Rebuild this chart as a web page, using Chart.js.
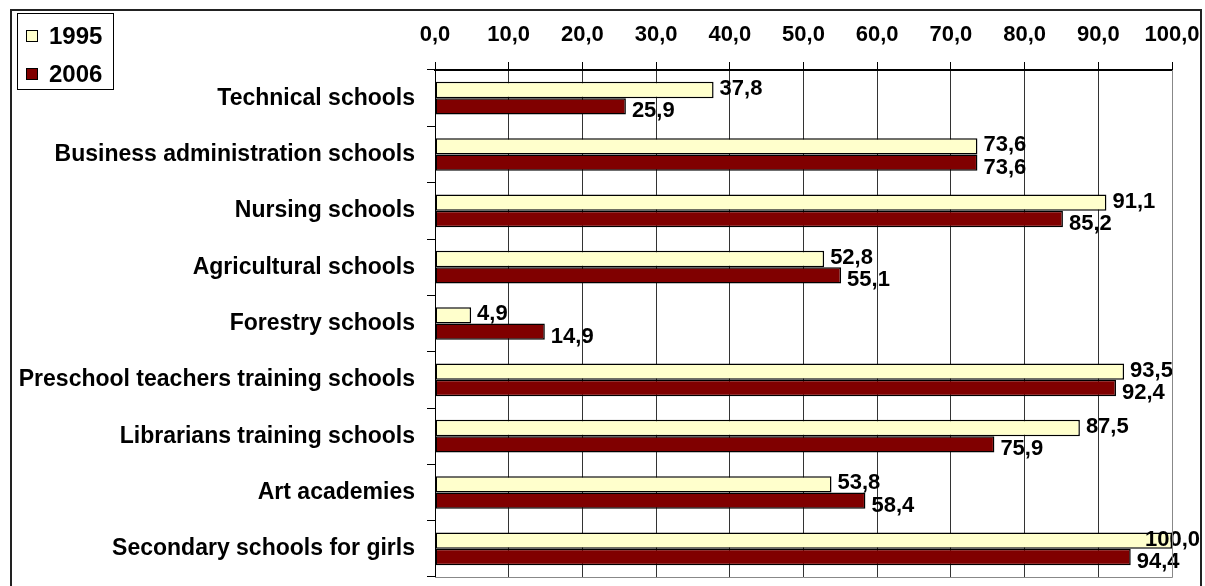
<!DOCTYPE html>
<html>
<head>
<meta charset="utf-8">
<script src="https://cdn.jsdelivr.net/npm/chart.js@4.4.1/dist/chart.umd.min.js"></script>
<style>
  body { margin: 0; background: #fff; }
  canvas { display: block; }
</style>
</head>
<body>
<canvas id="chart" width="1205" height="586"></canvas>
<script>
const categories = [
  "Technical schools",
  "Business administration schools",
  "Nursing schools",
  "Agricultural schools",
  "Forestry schools",
  "Preschool teachers training schools",
  "Librarians training schools",
  "Art academies",
  "Secondary schools for girls"
];
const values1995 = [37.8, 73.6, 91.1, 52.8, 4.9, 93.5, 87.5, 53.8, 100.0];
const values2006 = [25.9, 73.6, 85.2, 55.1, 14.9, 92.4, 75.9, 58.4, 94.4];
const seriesNames = ["1995", "2006"];
const tickValues = [0, 10, 20, 30, 40, 50, 60, 70, 80, 90, 100];

const FONT = "Arial, 'Liberation Sans', sans-serif";
const fmt = v => Number(v).toFixed(1).replace(".", ",");

// frame round the whole chart + bottom/right edge of plot
const framePlugin = {
  id: "frame",
  beforeDraw(chart) {
    const c = chart.ctx;
    c.save();
    c.fillStyle = "#fff";
    c.fillRect(0, 0, chart.width, chart.height);
    c.restore();
  },
  afterDraw(chart) {
    const c = chart.ctx;
    const a = chart.chartArea;
    c.save();
    c.strokeStyle = "#888";
    c.lineWidth = 1;
    c.beginPath();
    c.moveTo(a.left, a.bottom + 0.5);
    c.lineTo(a.right + 0.5, a.bottom + 0.5);
    c.lineTo(a.right + 0.5, a.top);
    c.stroke();
    c.strokeStyle = "#222";
    c.lineWidth = 2;
    c.strokeRect(11, 10, 1190, chart.height + 10);
    c.restore();
  }
};

// value labels at the bar ends
const valueLabels = {
  id: "valueLabels",
  afterDatasetsDraw(chart) {
    const c = chart.ctx;
    c.save();
    c.font = "bold 22px " + FONT;
    c.fillStyle = "#000";
    c.textBaseline = "middle";
    chart.data.datasets.forEach((ds, i) => {
      const meta = chart.getDatasetMeta(i);
      meta.data.forEach((bar, j) => {
        const txt = fmt(ds.data[j]);
        const w = c.measureText(txt).width;
        let x = bar.x + 6;
        if (x + w > 1200) x = 1200 - w;
        const y = bar.y + (i === 0 ? -1 : 5);
        c.fillText(txt, x, y);
      });
    });
    c.restore();
  }
};

// boxed legend top-left
const boxLegend = {
  id: "boxLegend",
  afterDraw(chart) {
    const c = chart.ctx;
    c.save();
    c.fillStyle = "#fff";
    c.fillRect(17, 13, 96, 76);
    c.strokeStyle = "#000";
    c.lineWidth = 1;
    c.strokeRect(17.5, 13.5, 96, 76);
    c.font = "bold 24px " + FONT;
    c.textBaseline = "middle";
    chart.data.datasets.forEach((ds, i) => {
      const y = 36 + i * 38;
      c.fillStyle = ds.backgroundColor;
      c.fillRect(27, y - 5, 10, 10);
      c.strokeStyle = "#000";
      c.strokeRect(26.5, y - 5.5, 11, 11);
      c.fillStyle = "#000";
      c.fillText(ds.label, 49, y + 1);
    });
    c.restore();
  }
};

new Chart(document.getElementById("chart"), {
  type: "bar",
  data: {
    labels: categories,
    datasets: [
      {
        label: seriesNames[0],
        data: values1995,
        backgroundColor: "#FFFFCC",
        borderColor: "#000",
        borderWidth: 1.5,
        borderSkipped: false
      },
      {
        label: seriesNames[1],
        data: values2006,
        backgroundColor: "#800000",
        borderColor: "#000",
        borderWidth: 1.5,
        borderSkipped: false
      }
    ]
  },
  options: {
    indexAxis: "y",
    responsive: false,
    animation: false,
    devicePixelRatio: 1,
    layout: { padding: { left: 0, top: 0, right: 33, bottom: 9 } },
    datasets: { bar: { categoryPercentage: 0.58, barPercentage: 1 } },
    plugins: {
      legend: { display: false },
      tooltip: { enabled: false }
    },
    scales: {
      x: {
        position: "top",
        min: 0,
        max: 100,
        afterFit: s => {
          s.height = 70;
          s.paddingLeft = 0;
          s.paddingRight = 0;
        },
        afterBuildTicks: s => { s.ticks = tickValues.map(v => ({ value: v })); },
        ticks: {
          callback: v => fmt(v),
          color: "#000",
          font: { family: FONT, size: 22, weight: "bold" },
          padding: 14,
          maxRotation: 0
        },
        grid: { color: "#333", lineWidth: 1, tickLength: 8, tickColor: "#000" },
        border: { color: "#000", width: 2 }
      },
      y: {
        afterFit: s => {
          s.width = 435;
          s.paddingTop = 0;
          s.paddingBottom = 0;
        },
        ticks: {
          color: "#000",
          font: { family: FONT, size: 23, weight: "bold" },
          padding: 12
        },
        grid: { drawOnChartArea: false, tickLength: 8, tickColor: "#000", offset: true },
        border: { color: "#000", width: 1 }
      }
    }
  },
  plugins: [framePlugin, valueLabels, boxLegend]
});
</script>
</body>
</html>
